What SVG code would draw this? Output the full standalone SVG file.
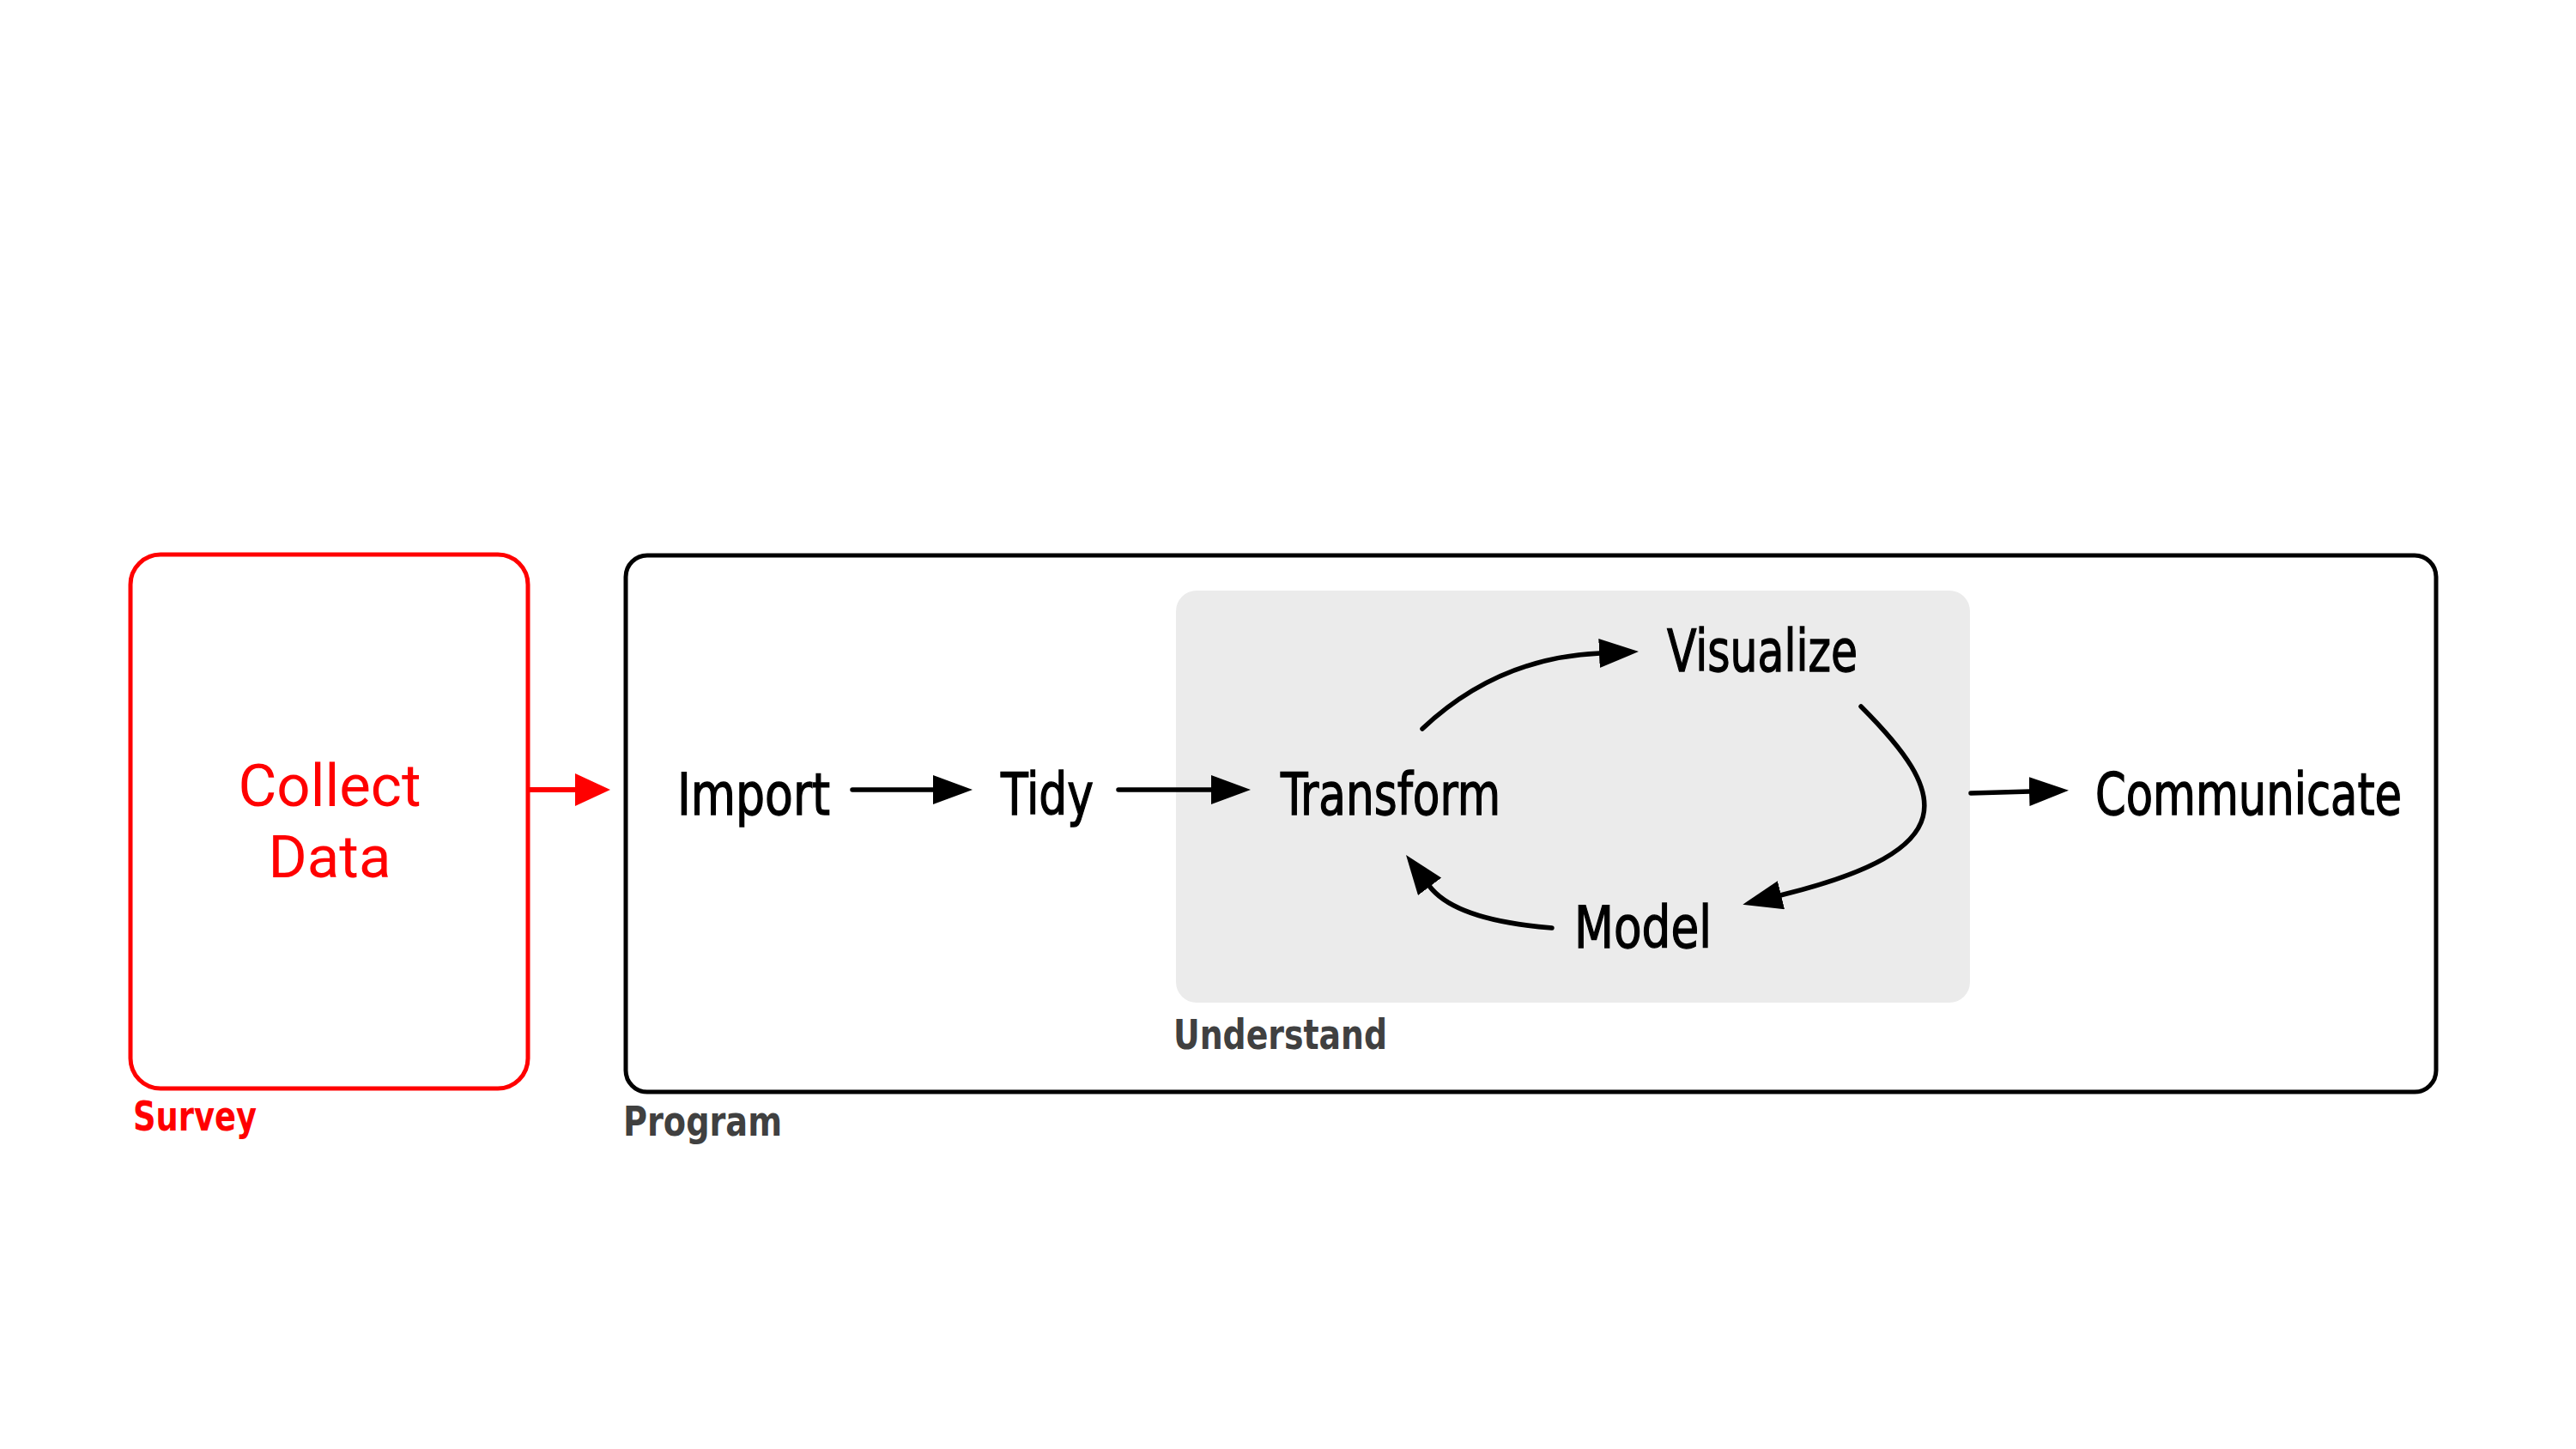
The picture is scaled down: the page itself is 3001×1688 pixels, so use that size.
<svg xmlns="http://www.w3.org/2000/svg" width="3001" height="1688" viewBox="0 0 3001 1688">
  <style>
    .bg { fill: #ffffff; }
    .frame { fill: none; stroke: #000000; stroke-width: 5; }
    .frame-red { fill: none; stroke: #ff0000; stroke-width: 5; }
    .panel { fill: #ebebeb; stroke: none; }
    .step { font-family: "DejaVu Sans Condensed", "DejaVu Sans", "Liberation Sans", sans-serif; font-stretch: condensed; font-size: 67px; fill: #000000; stroke: #000000; stroke-width: 1.3px; }
    .tag { font-family: "DejaVu Sans Condensed", "DejaVu Sans", "Liberation Sans", sans-serif; font-stretch: condensed; font-weight: bold; font-size: 48px; fill: #404040; }
    .tag-red { fill: #ff0000; }
    .collect { font-family: Roboto, "Liberation Sans", sans-serif; font-size: 69px; fill: #ff0000; text-anchor: middle; }
    .edge { fill: none; stroke: #000000; stroke-width: 5.5; stroke-linecap: round; marker-end: url(#head); }
    .edge-red { fill: none; stroke: #ff0000; stroke-width: 6; marker-end: url(#head-red); }
  </style>
  <defs>
    <marker id="head" markerUnits="userSpaceOnUse" markerWidth="46" markerHeight="34" viewBox="0 0 46 34" refX="1" refY="17" orient="auto">
      <path d="M0,0 L46,17 L0,34 Z" fill="#000000"/>
    </marker>
    <marker id="head-red" markerUnits="userSpaceOnUse" markerWidth="41" markerHeight="38" viewBox="0 0 41 38" refX="1" refY="19" orient="auto">
      <path d="M0,0 L41,19 L0,38 Z" fill="#ff0000"/>
    </marker>
  </defs>
  <rect class="bg" x="0" y="0" width="3001" height="1688"/>

  <g id="survey">
    <rect class="frame-red" x="152" y="646" width="463" height="622" rx="35" ry="35"/>
    <text class="collect" x="384" y="939">Collect</text>
    <text class="collect" x="384" y="1022">Data</text>
    <text class="tag tag-red" x="155" y="1317" textLength="144" lengthAdjust="spacingAndGlyphs">Survey</text>
  </g>

  <g id="program">
    <rect class="frame" x="729" y="647" width="2109" height="625" rx="25" ry="25"/>
    <text class="tag" x="726" y="1323" textLength="185" lengthAdjust="spacingAndGlyphs">Program</text>
  </g>

  <g id="understand">
    <rect class="panel" x="1370" y="688" width="925" height="480" rx="24" ry="24"/>
    <text class="tag" x="1367" y="1222" textLength="249" lengthAdjust="spacingAndGlyphs">Understand</text>
  </g>

  <g id="import">
    <text class="step" x="789" y="949" textLength="178" lengthAdjust="spacingAndGlyphs">Import</text>
  </g>
  <g id="tidy">
    <text class="step" x="1166" y="949" textLength="108" lengthAdjust="spacingAndGlyphs">Tidy</text>
  </g>
  <g id="transform">
    <text class="step" x="1492" y="949" textLength="256" lengthAdjust="spacingAndGlyphs">Transform</text>
  </g>
  <g id="visualize">
    <text class="step" x="1942" y="782" textLength="222" lengthAdjust="spacingAndGlyphs">Visualize</text>
  </g>
  <g id="model">
    <text class="step" x="1834" y="1104" textLength="160" lengthAdjust="spacingAndGlyphs">Model</text>
  </g>
  <g id="communicate">
    <text class="step" x="2441" y="949" textLength="357" lengthAdjust="spacingAndGlyphs">Communicate</text>
  </g>

  <g id="connectors">
    <path class="edge-red" d="M615,920 L671,920"/>
    <path class="edge" d="M993,920 L1088,920"/>
    <path class="edge" d="M1303,920 L1412,920"/>
    <path class="edge" d="M1657,849 Q1745,766 1864,761"/>
    <path class="edge" d="M2168,823 C2270,925 2290,990 2074,1043"/>
    <path class="edge" d="M1808,1081 Q1695,1072 1665,1032"/>
    <path class="edge" d="M2296,924 L2365,922"/>
  </g>
</svg>
